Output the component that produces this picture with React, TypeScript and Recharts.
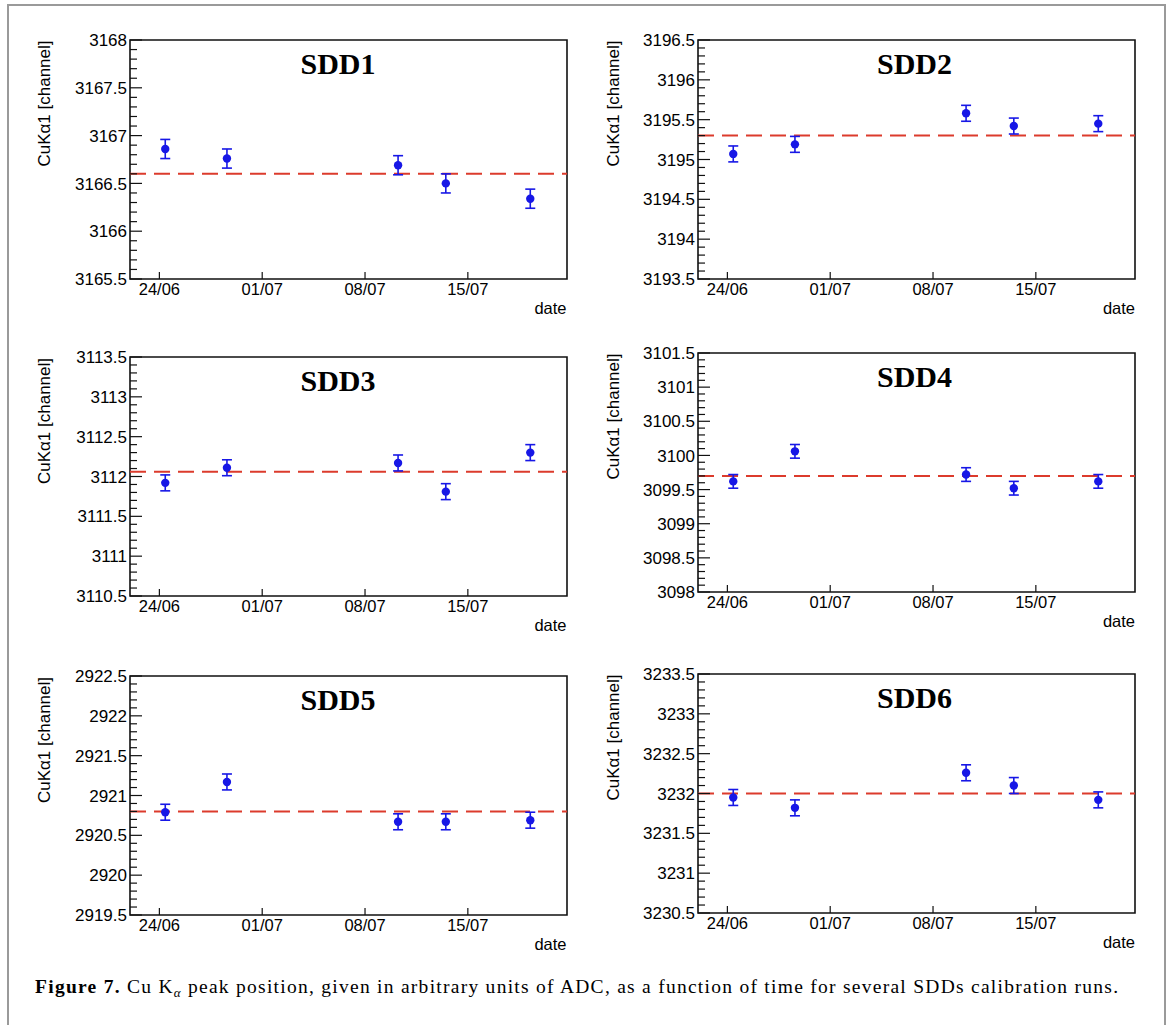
import React from "react";
import { ScatterChart, Scatter, XAxis, YAxis, ErrorBar, ReferenceLine, ReferenceArea } from "recharts";

// x = days after 24/06
const RUN_DAYS = [0.4, 4.6, 16.25, 19.5, 25.25];
const DATE_TICKS = [0, 7, 14, 21];
const DATE_LABELS = ["24/06", "01/07", "08/07", "15/07"];
const DAY_DOMAIN: [number, number] = [-2.0, 27.75];

const SDD_NAMES = ["SDD1", "SDD2", "SDD3", "SDD4", "SDD5", "SDD6"];

const SDD1_PEAK = [3166.86, 3166.76, 3166.69, 3166.5, 3166.34];
const SDD2_PEAK = [3195.07, 3195.19, 3195.58, 3195.42, 3195.45];
const SDD3_PEAK = [3111.92, 3112.11, 3112.17, 3111.81, 3112.3];
const SDD4_PEAK = [3099.62, 3100.06, 3099.72, 3099.52, 3099.62];
const SDD5_PEAK = [2920.79, 2921.17, 2920.67, 2920.67, 2920.69];
const SDD6_PEAK = [3231.95, 3231.82, 3232.26, 3232.1, 3231.92];

const SDD1_ERR = [0.1, 0.1, 0.1, 0.1, 0.1];
const SDD2_ERR = [0.1, 0.1, 0.1, 0.1, 0.1];
const SDD3_ERR = [0.1, 0.1, 0.1, 0.1, 0.1];
const SDD4_ERR = [0.1, 0.1, 0.1, 0.1, 0.1];
const SDD5_ERR = [0.1, 0.1, 0.1, 0.1, 0.1];
const SDD6_ERR = [0.1, 0.1, 0.1, 0.1, 0.1];

// fitted mean (red dashed line)
const SDD_MEAN = [3166.6, 3195.3, 3112.06, 3099.7, 2920.8, 3232.0];

// y axis ranges
const SDD_YMIN = [3165.5, 3193.5, 3110.5, 3098, 2919.5, 3230.5];
const SDD_YMAX = [3168, 3196.5, 3113.5, 3101.5, 2922.5, 3233.5];

const PEAKS = [SDD1_PEAK, SDD2_PEAK, SDD3_PEAK, SDD4_PEAK, SDD5_PEAK, SDD6_PEAK];
const ERRS = [SDD1_ERR, SDD2_ERR, SDD3_ERR, SDD4_ERR, SDD5_ERR, SDD6_ERR];

const Y_TITLE = "CuK\u03b11 [channel]";
const X_TITLE = "date";

// layout of plot frames on the page
const FRAME_LEFT = [129.5, 698, 129.5, 698, 129.5, 698];
const FRAME_TOP = [39.5, 39.5, 357, 352.5, 676, 673.5];
const TITLE_DX = [-10, -2, -10, -2, -10, -2];
const FRAME_W = 437;
const FRAME_H = 239;

const CHART_W = 560;
const CHART_H = 300;
const PAD_L = 110;
const PAD_T = 20;

const BLUE = "#1717e6";
const RED = "#dc3b2c";
const INK = "#111";
const SANS = "'Liberation Sans', Arial, Helvetica, sans-serif";
const SERIF = "'Liberation Serif', 'Times New Roman', serif";

const fmt = (v: number) => String(Math.round(v * 10) / 10);

const YTick = (props: any) => {
  const { x, y, payload } = props;
  const k = Math.round(payload.value * 10);
  const major = k % 5 === 0;
  return (
    <g>
      <line x1={x} x2={x + (major ? 12 : 7)} y1={y} y2={y} stroke={INK} strokeWidth={1.2} />
      {major && (
        <text x={x - 3} y={y} dy="0.36em" textAnchor="end" fontFamily={SANS} fontSize={17} fill="#000">
          {fmt(payload.value)}
        </text>
      )}
    </g>
  );
};

const XTick = (props: any) => {
  const { x, y, payload } = props;
  const i = DATE_TICKS.indexOf(payload.value);
  return (
    <g>
      <line x1={x} x2={x} y1={y} y2={y - 7} stroke={INK} strokeWidth={1.2} />
      <text x={x} y={y + 16} textAnchor="middle" fontFamily={SANS} fontSize={16.5} fill="#000">
        {DATE_LABELS[i]}
      </text>
    </g>
  );
};

const Dot = (p: any) => <circle cx={p.cx} cy={p.cy} r={4.2} fill={BLUE} />;

function Panel({ idx }: { idx: number }) {
  const lo = SDD_YMIN[idx];
  const hi = SDD_YMAX[idx];
  const ticks: number[] = [];
  for (let k = Math.round(lo * 10); k <= Math.round(hi * 10); k++) ticks.push(k / 10);
  const data = RUN_DAYS.map((d, i) => ({ x: d, y: PEAKS[idx][i], e: ERRS[idx][i] }));

  return (
    <div
      style={{
        position: "absolute",
        left: FRAME_LEFT[idx] - PAD_L,
        top: FRAME_TOP[idx] - PAD_T,
        width: CHART_W,
        height: CHART_H,
      }}
    >
      <ScatterChart
        width={CHART_W}
        height={CHART_H}
        margin={{ top: PAD_T, left: PAD_L - 60, right: CHART_W - PAD_L - FRAME_W, bottom: CHART_H - PAD_T - FRAME_H - 40 }}
      >
        <XAxis
          type="number"
          dataKey="x"
          domain={DAY_DOMAIN}
          ticks={DATE_TICKS}
          interval={0}
          allowDataOverflow
          height={40}
          axisLine={false}
          tickLine={false}
          tickSize={0}
          tickMargin={0}
          tick={<XTick />}
        />
        <YAxis
          type="number"
          dataKey="y"
          domain={[lo, hi]}
          ticks={ticks}
          interval={0}
          allowDataOverflow
          width={60}
          axisLine={false}
          tickLine={false}
          tickSize={0}
          tickMargin={0}
          tick={<YTick />}
        />
        <ReferenceArea
          x1={DAY_DOMAIN[0]}
          x2={DAY_DOMAIN[1]}
          y1={lo}
          y2={hi}
          fill="none"
          fillOpacity={0}
          stroke={INK}
          strokeWidth={1.6}
        />
        <ReferenceLine y={SDD_MEAN[idx]} stroke={RED} strokeWidth={2} strokeDasharray="16 8" />
        <Scatter data={data} shape={<Dot />} isAnimationActive={false}>
          <ErrorBar dataKey="e" direction="y" width={5} stroke={BLUE} strokeWidth={1.6} isAnimationActive={false} />
        </Scatter>
      </ScatterChart>
    </div>
  );
}

export default function App() {
  return (
    <div style={{ position: "absolute", left: 0, top: 0, width: 1171, height: 1025, background: "#fff", overflow: "hidden" }}>
      {SDD_NAMES.map((_, i) => (
        <Panel key={i} idx={i} />
      ))}
      <svg
        width={1171}
        height={1025}
        style={{ position: "absolute", left: 0, top: 0, pointerEvents: "none" }}
      >
        <rect x={8} y={5} width={1157} height={1040} fill="none" stroke="#9a9a9a" strokeWidth={2} />
        {SDD_NAMES.map((name, i) => {
          const l = FRAME_LEFT[i];
          const t = FRAME_TOP[i];
          return (
            <g key={name}>
              <text
                x={l + FRAME_W / 2 + TITLE_DX[i]}
                y={t + 34}
                textAnchor="middle"
                fontFamily={SERIF}
                fontWeight="bold"
                fontSize={30}
                fill="#000"
              >
                {name}
              </text>
              <text
                transform={`translate(${l - 85.5},${t + 1}) rotate(-90)`}
                textAnchor="end"
                dy="0.36em"
                fontFamily={SANS}
                fontSize={17}
                fill="#000"
              >
                {Y_TITLE}
              </text>
              <text x={l + FRAME_W} y={t + FRAME_H + 35} textAnchor="end" fontFamily={SANS} fontSize={16.5} fill="#000">
                {X_TITLE}
              </text>
            </g>
          );
        })}
        <text x={35} y={993} fontFamily={SERIF} fontSize={19.5} fill="#000" textLength={1083} lengthAdjust="spacing">
          <tspan fontWeight="bold">Figure 7.</tspan>
          <tspan> Cu K</tspan>
          <tspan fontSize={13} dy={4} fontStyle="italic">
            {"\u03b1"}
          </tspan>
          <tspan dy={-4}> peak position, given in arbitrary units of ADC, as a function of time for several SDDs calibration runs.</tspan>
        </text>
      </svg>
    </div>
  );
}
